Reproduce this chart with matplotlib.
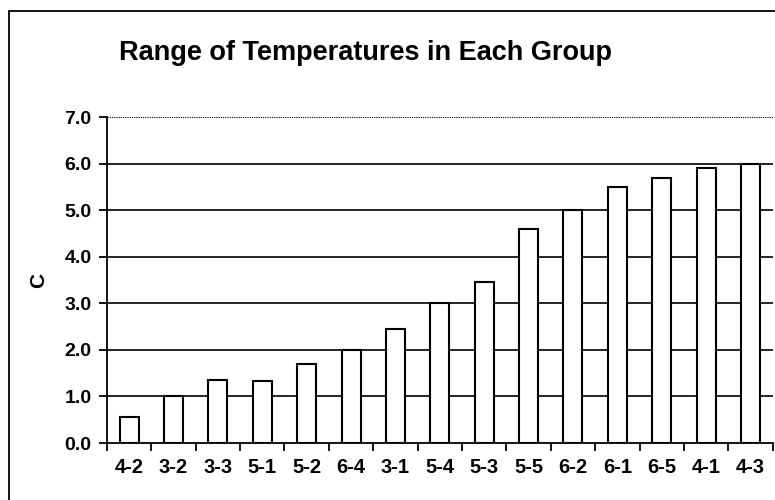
#!/usr/bin/env python3

import numpy as np
import matplotlib
matplotlib.use("Agg")
import matplotlib.pyplot as plt
from matplotlib.patches import Rectangle

# Groups sorted by temperature range
groups = ["4-2", "3-2", "3-3", "5-1", "5-2", "6-4", "3-1", "5-4",
          "5-3", "5-5", "6-2", "6-1", "6-5", "4-1", "4-3"]
ranges = [0.55, 1.0, 1.35, 1.33, 1.7, 2.0, 2.45, 3.0,
          3.45, 4.6, 5.0, 5.5, 5.7, 5.9, 6.0]
y_ticks = [0.0, 1.0, 2.0, 3.0, 4.0, 5.0, 6.0, 7.0]

plt.rcParams["font.family"] = ["Liberation Sans", "DejaVu Sans"]

fig = plt.figure(figsize=(7.75, 5.0), dpi=100)
ax = fig.add_axes([0.138, 0.114, 0.859, 0.652])

x = np.arange(len(groups))
ax.bar(x, ranges, width=0.43, color="white", edgecolor="black", linewidth=1.5, zorder=3)

# gridlines (solid) and dotted top line at 7.0
for v in y_ticks[1:-1]:
    ax.axhline(v, color="black", linewidth=1.2, zorder=1)
ax.axhline(7.0, color="black", linewidth=0.8, linestyle=(0, (1, 1)), zorder=1)

ax.set_xlim(-0.5, len(groups) - 0.5)
ax.set_ylim(0, 7.0)
ax.set_yticks(y_ticks)
ax.set_yticklabels([f"{v:.1f}" for v in y_ticks], fontsize=14, fontweight="bold")

ax.set_xticks(x)
ax.set_xticklabels(groups, fontsize=14.5, fontweight="bold")
ax.tick_params(axis="x", length=0, pad=11)
# tick marks between categories
ax.set_xticks(np.arange(len(groups) + 1) - 0.5, minor=True)
ax.tick_params(axis="x", which="minor", length=6, width=1.3, direction="out")
ax.tick_params(axis="y", length=6, width=1.3, direction="out", pad=5)

for side in ["top", "right"]:
    ax.spines[side].set_visible(False)
ax.spines["left"].set_linewidth(1.3)
ax.spines["bottom"].set_linewidth(1.3)

ax.set_ylabel("C", fontsize=15, fontweight="bold", labelpad=12)

fig.text(0.472, 0.894, "Range of Temperatures in Each Group", ha="center", va="center",
         fontsize=19.5, fontweight="bold")

# outer chart frame (cut off at right and bottom like the scan)
fig.patches.append(Rectangle((0.011, -0.05), 1.2, 1.028, transform=fig.transFigure,
                             fill=False, edgecolor="black", linewidth=1.3))

plt.savefig("out.png", dpi=100)
